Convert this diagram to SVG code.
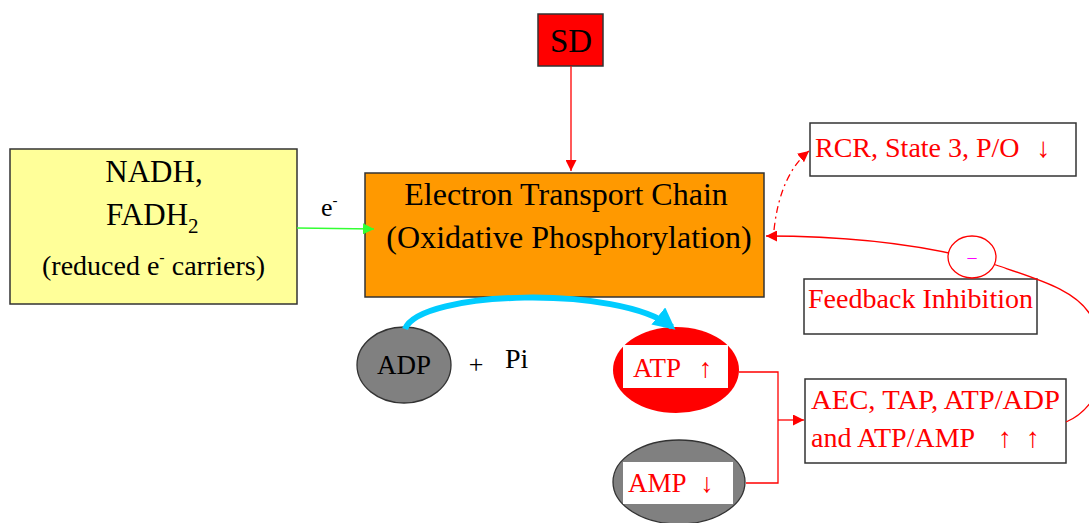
<svg xmlns="http://www.w3.org/2000/svg" width="1089" height="523" viewBox="0 0 1089 523">
<defs>
<style>
text{font-family:"Liberation Serif","Times New Roman",serif;}
.box{stroke:#333;stroke-width:1.5;}
.blk{fill:#000;}
.red{fill:#ff0000;}
.ln{fill:none;stroke:#ff0000;stroke-width:1.3;}
</style>
<marker id="ar" viewBox="0 0 10 10" refX="10" refY="5" markerWidth="11" markerHeight="11" markerUnits="userSpaceOnUse" orient="auto"><path d="M0,0 L10,5 L0,10 Z" fill="#ff0000"/></marker>
<marker id="ag" viewBox="0 0 10 10" refX="10" refY="5" markerWidth="11" markerHeight="11" markerUnits="userSpaceOnUse" orient="auto"><path d="M0,0 L10,5 L0,10 Z" fill="#33ff33"/></marker>
<marker id="ac" viewBox="0 0 10 10" refX="8" refY="5" markerWidth="22" markerHeight="22" markerUnits="userSpaceOnUse" orient="auto"><path d="M0,0 L10,5 L0,10 Z" fill="#00ccff"/></marker>
</defs>
<rect width="1089" height="523" fill="#fff"/>

<g id="sd">
<rect x="538" y="14" width="65" height="52" fill="#ff0000" class="box"/>
<text x="571" y="52" font-size="33" text-anchor="middle" class="blk">SD</text>
</g>

<g id="etc">
<rect x="365" y="173" width="399" height="124" fill="#ff9900" class="box"/>
<text x="566" y="205" font-size="32" text-anchor="middle" class="blk">Electron Transport Chain</text>
<text x="569" y="248" font-size="32" text-anchor="middle" class="blk">(Oxidative Phosphorylation)</text>
</g>

<g id="nadh">
<rect x="10" y="149" width="287" height="155" fill="#ffff99" class="box"/>
<text x="154" y="182" font-size="31" text-anchor="middle" class="blk">NADH,</text>
<text x="106" y="225" font-size="31" class="blk">FADH<tspan font-size="21" dy="8">2</tspan></text>
<text x="42" y="275" font-size="28" class="blk" textLength="223" lengthAdjust="spacingAndGlyphs">(reduced e<tspan font-size="16" dy="-12">-</tspan><tspan dy="12"> carriers)</tspan></text>
</g>

<g id="elabel">
<text x="321" y="216" font-size="26" class="blk">e<tspan font-size="15" dy="-11">-</tspan></text>
</g>

<g id="rcr">
<rect x="810" y="123" width="266" height="53" fill="#fff" class="box"/>
<text x="815" y="157" font-size="28" class="red">RCR, State 3, P/O <tspan dx="10">↓</tspan></text>
</g>

<g id="feedback">
<rect x="804" y="279" width="233" height="55" fill="#fff" class="box"/>
<text x="808" y="308" font-size="28" class="red" textLength="225" lengthAdjust="spacingAndGlyphs">Feedback Inhibition</text>
</g>

<g id="adp">
<ellipse cx="404" cy="365" rx="47" ry="38" fill="#808080" stroke="#333" stroke-width="1.3"/>
<text x="404" y="374" font-size="27" text-anchor="middle" class="blk">ADP</text>
</g>

<g id="pi">
<text x="476" y="373" font-size="26" text-anchor="middle" class="blk">+</text>
<text x="505" y="368" font-size="28" class="blk">Pi</text>
</g>

<g id="atp">
<ellipse cx="676" cy="370" rx="63" ry="43" fill="#ff0000"/>
<rect x="623" y="345" width="105" height="43" fill="#fff"/>
<text x="633" y="377" font-size="27" class="red">ATP <tspan dx="12">↑</tspan></text>
</g>

<g id="amp">
<ellipse cx="679" cy="482" rx="66" ry="42" fill="#808080" stroke="#333" stroke-width="1.3"/>
<rect x="623" y="462" width="110" height="42" fill="#fff"/>
<text x="628" y="492" font-size="27" class="red">AMP <tspan dx="8">↓</tspan></text>
</g>

<g id="aec">
<rect x="805" y="379" width="261" height="84" fill="#fff" class="box"/>
<text x="811" y="409" font-size="28" class="red" textLength="249" lengthAdjust="spacingAndGlyphs">AEC, TAP, ATP/ADP</text>
<text x="811" y="447" font-size="28" class="red">and ATP/AMP</text>
<text x="1005" y="447" font-size="28" text-anchor="middle" class="red">↑</text>
<text x="1033" y="447" font-size="28" text-anchor="middle" class="red">↑</text>
</g>

<g id="connectors">
<line x1="571" y1="66" x2="571" y2="171" class="ln" marker-end="url(#ar)"/>
<line x1="297" y1="228" x2="374" y2="229" stroke="#33ff33" stroke-width="1.5" marker-end="url(#ag)"/>
<path d="M774 230 Q780 175 809 151" class="ln" stroke-width="1.8" stroke-dasharray="7 4 2 4" marker-end="url(#ar)"/>
<path d="M1066 422 C1095 410 1112 370 1105 345 C1101 330 1096 322 1092 318 C1079 291 1040 280 996 265 C930 245 850 236 766 236" class="ln" marker-end="url(#ar)"/>
<path d="M405 329 C420 290 620 285 672 327" fill="none" stroke="#00ccff" stroke-width="6" marker-end="url(#ac)"/>
<path d="M739 372 H778 V483 H746" class="ln"/>
<line x1="778" y1="420" x2="804" y2="420" class="ln" marker-end="url(#ar)"/>
</g>

<g id="minus">
<ellipse cx="972" cy="257" rx="24" ry="21" fill="#fff" stroke="#ff0000" stroke-width="1.3"/>
<text x="972" y="263" font-size="18" text-anchor="middle" fill="#ff00ff">–</text>
</g>
</svg>
